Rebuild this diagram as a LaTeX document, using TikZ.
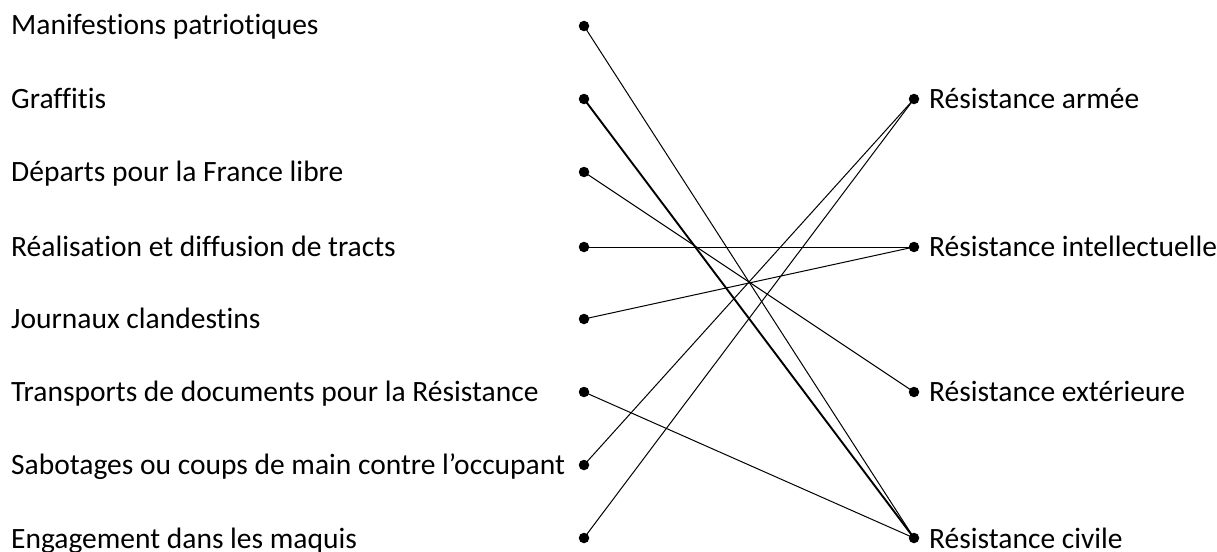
\documentclass[tikz,border=0pt]{standalone}
\usepackage{fontspec}
\setmainfont{Carlito}[Ligatures=NoCommon]
\begin{document}
\begin{tikzpicture}[x=1pt,y=-1pt,
  dot/.style={circle,fill=black,inner sep=0pt,minimum size=10.5pt},
  lbl/.style={anchor=base west,inner sep=0pt,font=\fontsize{29.5}{32}\selectfont},
  link/.style={line width=1pt},
  thicklink/.style={line width=1.9pt}]
\useasboundingbox (0,0) rectangle (1217,551);
% left dots
\node[dot] (l1) at (584,26) {};
\node[dot] (l2) at (584,99) {};
\node[dot] (l3) at (584,172) {};
\node[dot] (l4) at (584,247) {};
\node[dot] (l5) at (584,319) {};
\node[dot] (l6) at (584,392) {};
\node[dot] (l7) at (584,465) {};
\node[dot] (l8) at (584,538) {};
% left labels
\node[lbl] (t1) at (11,35) {Manifestions patriotiques};
\node[lbl] (t2) at (11,108) {Graffitis};
\node[lbl] (t3) at (11,181) {Départs pour la France libre};
\node[lbl] (t4) at (11,256) {Réalisation et diffusion de tracts};
\node[lbl] (t5) at (11,328) {Journaux clandestins};
\node[lbl] (t6) at (11,401) {Transports de documents pour la Résistance};
\node[lbl] (t7) at (11,474) {Sabotages ou coups de main contre l’occupant};
\node[lbl] (t8) at (11,548) {Engagement dans les maquis};
% right dots
\node[dot] (r1) at (914,99) {};
\node[dot] (r2) at (914,247) {};
\node[dot] (r3) at (914,392) {};
\node[dot] (r4) at (914,538) {};
% right labels
\node[lbl] (s1) at (929,108) {Résistance armée};
\node[lbl] (s2) at (929,256) {Résistance intellectuelle};
\node[lbl] (s3) at (929,401) {Résistance extérieure};
\node[lbl] (s4) at (929,548) {Résistance civile};
% connectors
\draw[link] (l1.center) -- (r4.center);
\draw[thicklink] (l2.center) -- (r4.center);
\draw[link] (l3.center) -- (r3.center);
\draw[link] (l4.center) -- (r2.center);
\draw[link] (l5.center) -- (r2.center);
\draw[link] (l6.center) -- (r4.center);
\draw[link] (l7.center) -- (r1.center);
\draw[link] (l8.center) -- (r1.center);
\end{tikzpicture}
\end{document}
